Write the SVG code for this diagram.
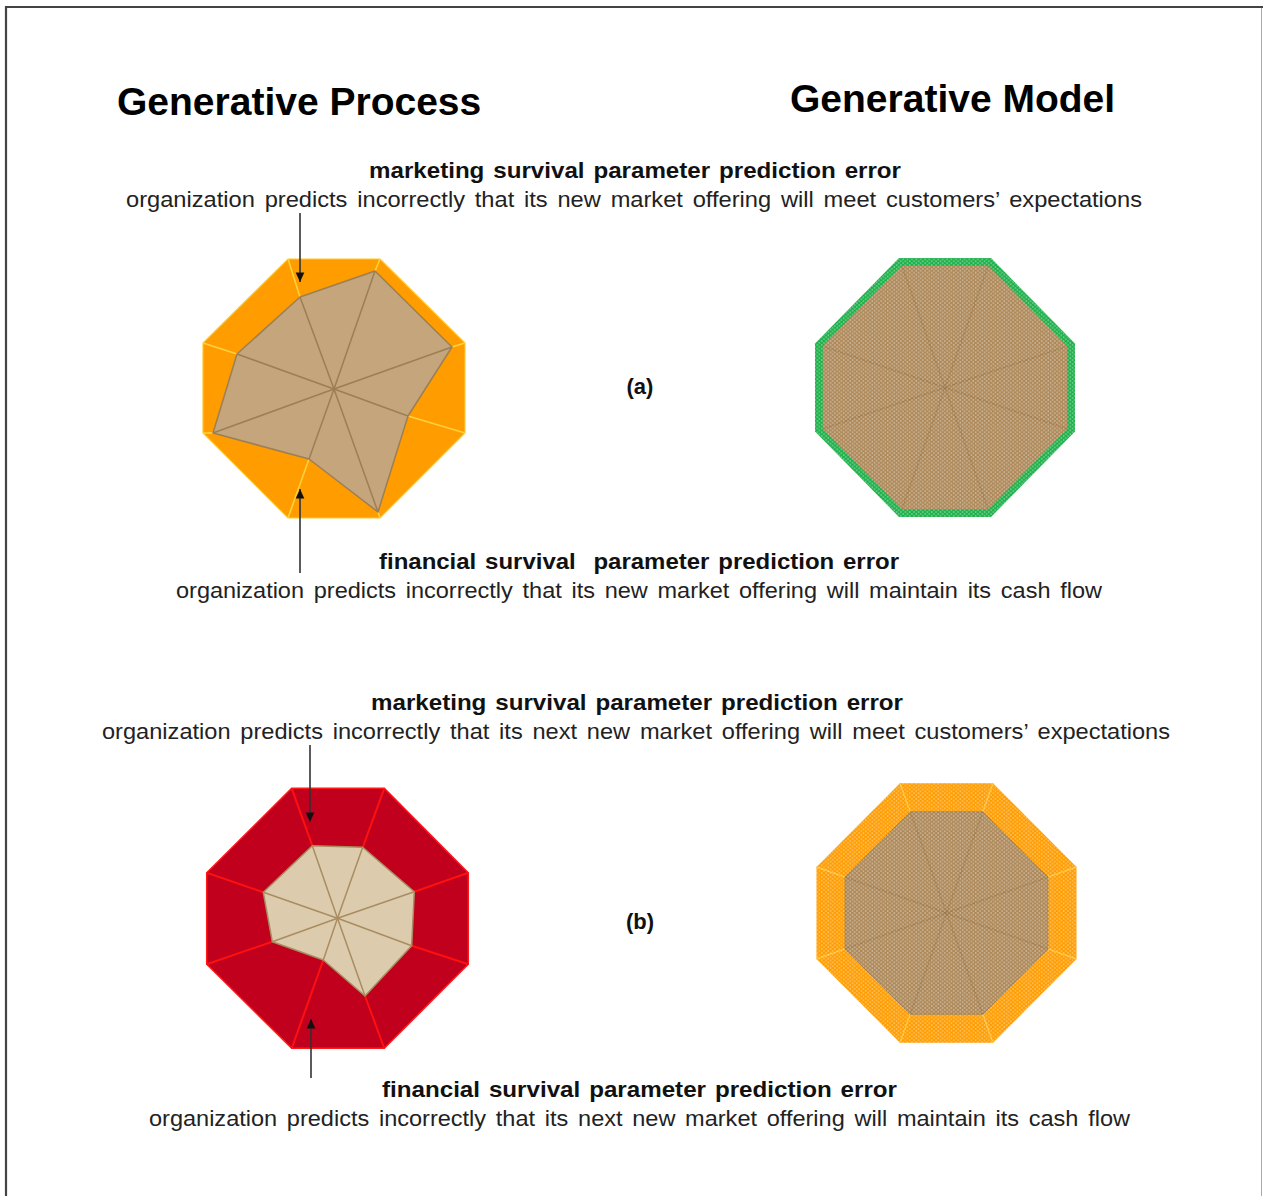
<svg xmlns="http://www.w3.org/2000/svg" width="1263" height="1196" viewBox="0 0 1263 1196">
  <style>
    .title { font-family: "Liberation Sans", Arial, sans-serif; font-weight: bold; font-size: 39px; fill: #000; }
    .head { font-family: "Liberation Sans", Arial, sans-serif; font-weight: bold; font-size: 22px; fill: #111; text-anchor: middle; word-spacing: 2px; }
    .body { font-family: "Liberation Sans", Arial, sans-serif; font-size: 22px; fill: #222; text-anchor: middle; word-spacing: 3px; }
    .tag { font-family: "Liberation Sans", Arial, sans-serif; font-weight: bold; font-size: 22px; fill: #111; text-anchor: middle; }
    .arrow { stroke: #333; stroke-width: 1.6; fill: none; marker-end: url(#head); }
    .tanIn { fill: #C5A57B; stroke: #9C7F55; stroke-width: 1.5; stroke-linejoin: round; }
    .paleIn { fill: #DDCBAE; stroke: #A88D60; stroke-width: 1.5; stroke-linejoin: round; }
    .spoke { stroke: #9C7F55; stroke-width: 1.5; }
    .spokeM { stroke: #94703F; stroke-width: 1.4; opacity: 0.55; }
    .sepY { stroke: #FFD23C; stroke-width: 1.6; }
    .sepR { stroke: #FF1010; stroke-width: 2; }
  </style>
  <defs>
    <marker id="head" viewBox="0 0 10 10" refX="10" refY="5" markerWidth="6" markerHeight="6" markerUnits="strokeWidth" orient="auto">
      <path d="M0,0.5 L10,5 L0,9.5 Z" fill="#111"/>
    </marker>
    <!-- fine light dot screen used on the model octagons -->
    <pattern id="dots" width="4.4" height="3.8" patternUnits="userSpaceOnUse">
      <circle cx="1.1" cy="0.95" r="0.9" fill="#FFFFFF" fill-opacity="0.4"/>
      <circle cx="3.3" cy="2.85" r="0.9" fill="#FFFFFF" fill-opacity="0.4"/>
    </pattern>
  </defs>

  <rect x="0" y="0" width="1263" height="1196" fill="#FFFFFF"/>

  <!-- frame -->
  <g id="frame">
    <line x1="6" y1="7" x2="1263" y2="7" stroke="#444" stroke-width="2.2"/>
    <line x1="6" y1="6" x2="6" y2="1196" stroke="#444" stroke-width="2.2"/>
    <line x1="1261.5" y1="8" x2="1261.5" y2="1196" stroke="#AAA" stroke-width="1"/>
  </g>

  <!-- column titles -->
  <g id="titles">
    <text class="title" x="117" y="115">Generative Process</text>
    <text class="title" x="790" y="112">Generative Model</text>
  </g>

  <!-- (a) process: orange radar -->
  <g id="process-a">
    <polygon points="380,259 465,343 465,433 380,518 288,518 203,433 203,343 288,259" fill="#FF9C00" stroke="#FFC933" stroke-width="1.2"/>
    <line class="sepY" x1="375" y1="271" x2="380" y2="259"/>
    <line class="sepY" x1="452" y1="347" x2="465" y2="343"/>
    <line class="sepY" x1="408" y1="416" x2="465" y2="433"/>
    <line class="sepY" x1="378" y1="512" x2="380" y2="518"/>
    <line class="sepY" x1="309" y1="459" x2="288" y2="518"/>
    <line class="sepY" x1="213" y1="433" x2="203" y2="433"/>
    <line class="sepY" x1="237" y1="354" x2="203" y2="343"/>
    <line class="sepY" x1="300" y1="297" x2="288" y2="259"/>
    <polygon class="tanIn" points="375,271 452,347 408,416 378,512 309,459 213,433 237,354 300,297"/>
    <line class="spoke" x1="334" y1="389" x2="375" y2="271"/>
    <line class="spoke" x1="334" y1="389" x2="452" y2="347"/>
    <line class="spoke" x1="334" y1="389" x2="408" y2="416"/>
    <line class="spoke" x1="334" y1="389" x2="378" y2="512"/>
    <line class="spoke" x1="334" y1="389" x2="309" y2="459"/>
    <line class="spoke" x1="334" y1="389" x2="213" y2="433"/>
    <line class="spoke" x1="334" y1="389" x2="237" y2="354"/>
    <line class="spoke" x1="334" y1="389" x2="300" y2="297"/>
  </g>

  <!-- (a) model: full brown octagon with green rim -->
  <g id="model-a">
    <polygon points="899,258 991,258 1075,343.5 1075,431.5 991,517 899,517 815,431.5 815,343.5" fill="#1DB04A"/>
    <polygon points="901.8,265.8 988.2,265.8 1067.2,346.1 1067.2,428.9 988.2,509.2 901.8,509.2 822.8,428.9 822.8,346.1" fill="#AD8858"/>
    <g>
      <line class="spokeM" x1="945" y1="387.5" x2="901.8" y2="265.8"/>
      <line class="spokeM" x1="945" y1="387.5" x2="988.2" y2="265.8"/>
      <line class="spokeM" x1="945" y1="387.5" x2="1067.2" y2="346.1"/>
      <line class="spokeM" x1="945" y1="387.5" x2="1067.2" y2="428.9"/>
      <line class="spokeM" x1="945" y1="387.5" x2="988.2" y2="509.2"/>
      <line class="spokeM" x1="945" y1="387.5" x2="901.8" y2="509.2"/>
      <line class="spokeM" x1="945" y1="387.5" x2="822.8" y2="428.9"/>
      <line class="spokeM" x1="945" y1="387.5" x2="822.8" y2="346.1"/>
    </g>
    <polygon points="899,258 991,258 1075,343.5 1075,431.5 991,517 899,517 815,431.5 815,343.5" fill="url(#dots)"/>
  </g>

  <!-- (b) process: red radar -->
  <g id="process-b">
    <polygon points="291.7,788.3 384.3,788.3 468.3,872.7 468.3,964.3 384.3,1048.3 291.7,1048.3 206.7,964.3 206.7,872.7" fill="#C0001C" stroke="#FF1A1A" stroke-width="1.5"/>
    <line class="sepR" x1="362.7" y1="847.3" x2="384.3" y2="788.3"/>
    <line class="sepR" x1="414.3" y1="891.7" x2="468.3" y2="872.7"/>
    <line class="sepR" x1="411.7" y1="945.7" x2="468.3" y2="964.3"/>
    <line class="sepR" x1="365" y1="996" x2="384.3" y2="1048.3"/>
    <line class="sepR" x1="323.3" y1="960" x2="291.7" y2="1048.3"/>
    <line class="sepR" x1="272.3" y1="941.7" x2="206.7" y2="964.3"/>
    <line class="sepR" x1="263.3" y1="892.3" x2="206.7" y2="872.7"/>
    <line class="sepR" x1="312.3" y1="845.7" x2="291.7" y2="788.3"/>
    <polygon class="paleIn" points="362.7,847.3 414.3,891.7 411.7,945.7 365,996 323.3,960 272.3,941.7 263.3,892.3 312.3,845.7"/>
    <g stroke="#A88D60" stroke-width="1.5">
      <line x1="337.5" y1="918.3" x2="362.7" y2="847.3"/>
      <line x1="337.5" y1="918.3" x2="414.3" y2="891.7"/>
      <line x1="337.5" y1="918.3" x2="411.7" y2="945.7"/>
      <line x1="337.5" y1="918.3" x2="365" y2="996"/>
      <line x1="337.5" y1="918.3" x2="323.3" y2="960"/>
      <line x1="337.5" y1="918.3" x2="272.3" y2="941.7"/>
      <line x1="337.5" y1="918.3" x2="263.3" y2="892.3"/>
      <line x1="337.5" y1="918.3" x2="312.3" y2="845.7"/>
    </g>
  </g>

  <!-- (b) model: orange ring around a smaller brown octagon -->
  <g id="model-b">
    <polygon points="900,783.3 993,783.3 1076.5,867 1076.5,959 993,1042.7 900,1042.7 816.5,959 816.5,867" fill="#FF9C00"/>
    <g stroke="#FFC22E" stroke-width="1.4">
      <line x1="910.2" y1="811.8" x2="900" y2="783.3"/>
      <line x1="982.8" y1="811.8" x2="993" y2="783.3"/>
      <line x1="1047.9" y1="877.1" x2="1076.5" y2="867"/>
      <line x1="1047.9" y1="948.9" x2="1076.5" y2="959"/>
      <line x1="982.8" y1="1014.2" x2="993" y2="1042.7"/>
      <line x1="910.2" y1="1014.2" x2="900" y2="1042.7"/>
      <line x1="845.1" y1="948.9" x2="816.5" y2="959"/>
      <line x1="845.1" y1="877.1" x2="816.5" y2="867"/>
    </g>
    <polygon points="910.2,811.8 982.8,811.8 1047.9,877.1 1047.9,948.9 982.8,1014.2 910.2,1014.2 845.1,948.9 845.1,877.1" fill="#AD8858" stroke="#9C7A4C" stroke-width="1"/>
    <g>
      <line class="spokeM" x1="946.5" y1="913" x2="910.2" y2="811.8"/>
      <line class="spokeM" x1="946.5" y1="913" x2="982.8" y2="811.8"/>
      <line class="spokeM" x1="946.5" y1="913" x2="1047.9" y2="877.1"/>
      <line class="spokeM" x1="946.5" y1="913" x2="1047.9" y2="948.9"/>
      <line class="spokeM" x1="946.5" y1="913" x2="982.8" y2="1014.2"/>
      <line class="spokeM" x1="946.5" y1="913" x2="910.2" y2="1014.2"/>
      <line class="spokeM" x1="946.5" y1="913" x2="845.1" y2="948.9"/>
      <line class="spokeM" x1="946.5" y1="913" x2="845.1" y2="877.1"/>
    </g>
    <polygon points="900,783.3 993,783.3 1076.5,867 1076.5,959 993,1042.7 900,1042.7 816.5,959 816.5,867" fill="url(#dots)"/>
  </g>

  <!-- captions -->
  <g id="labels-a">
    <text class="head" x="635" y="178" textLength="532" lengthAdjust="spacingAndGlyphs">marketing survival parameter prediction error</text>
    <text class="body" x="634" y="207" textLength="1016" lengthAdjust="spacingAndGlyphs">organization predicts incorrectly that its new market offering will meet customers’ expectations</text>
    <text class="tag" x="640" y="394">(a)</text>
    <text class="head" x="639" y="569" textLength="520" lengthAdjust="spacingAndGlyphs" xml:space="preserve">financial survival  parameter prediction error</text>
    <text class="body" x="639" y="598" textLength="926" lengthAdjust="spacingAndGlyphs">organization predicts incorrectly that its new market offering will maintain its cash flow</text>
  </g>
  <g id="labels-b">
    <text class="head" x="637" y="710" textLength="532" lengthAdjust="spacingAndGlyphs">marketing survival parameter prediction error</text>
    <text class="body" x="636" y="739" textLength="1068" lengthAdjust="spacingAndGlyphs">organization predicts incorrectly that its next new market offering will meet customers’ expectations</text>
    <text class="tag" x="640" y="929">(b)</text>
    <text class="head" x="639.5" y="1097" textLength="515" lengthAdjust="spacingAndGlyphs">financial survival parameter prediction error</text>
    <text class="body" x="639.5" y="1126" textLength="981" lengthAdjust="spacingAndGlyphs">organization predicts incorrectly that its next new market offering will maintain its cash flow</text>
  </g>

  <!-- pointer arrows -->
  <g id="connectors">
    <line class="arrow" x1="300" y1="213" x2="300" y2="282"/>
    <line class="arrow" x1="300" y1="573" x2="300" y2="489"/>
    <line class="arrow" x1="310" y1="745" x2="310" y2="822"/>
    <line class="arrow" x1="311" y1="1078" x2="311" y2="1019"/>
  </g>
</svg>
